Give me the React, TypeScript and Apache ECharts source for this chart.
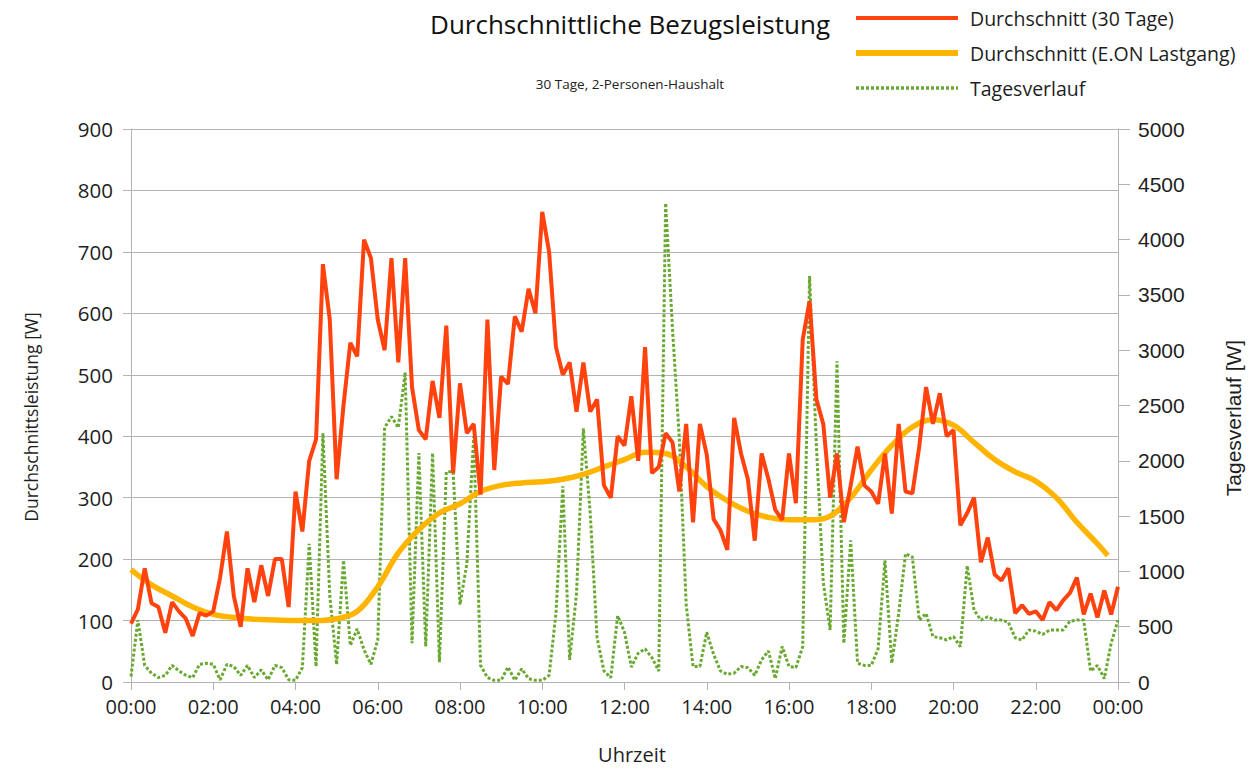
import React, { useEffect, useRef } from "react";
import * as echarts from "echarts";

const TITLE = "Durchschnittliche Bezugsleistung";
const SUBTITLE = "30 Tage, 2-Personen-Haushalt";
const SERIES_RED = "Durchschnitt (30 Tage)";
const SERIES_ORANGE = "Durchschnitt (E.ON Lastgang)";
const SERIES_GREEN = "Tagesverlauf";

// 10-minute steps, 00:00 .. 24:00
const STEP_MIN = 10;
const avg30Days = [
  95, 118, 185, 128, 122, 80, 130, 115, 103, 75, 112, 108, 115, 170, 245, 140, 90, 185, 130, 190, 140, 200, 200, 122,
  310, 245, 360, 395, 680, 590, 330, 450, 552, 530, 720, 690, 590, 540, 690, 520, 690, 480, 410, 395, 490, 430, 580, 340,
  486, 405, 420, 305, 590, 345, 497, 485, 595, 570, 640, 600, 765, 700, 545, 500, 520, 440, 520, 440, 460, 320, 300, 400,
  385, 465, 360, 545, 340, 350, 405, 390, 310, 420, 260, 420, 370, 265, 247, 215, 430, 372, 330, 230, 372, 330, 280, 264,
  372, 291, 557, 620, 460, 420, 300, 372, 260, 320, 383, 320, 310, 290, 372, 274, 420, 310, 307, 383, 480, 420, 470, 400,
  410, 255, 275, 300, 195, 235, 175, 165, 185, 112, 125, 111, 115, 101, 130, 117, 133, 145, 170, 110, 144, 105, 149, 110,
  155,
];

const dayProfile = [
  50, 560, 150, 80, 40, 60, 150, 100, 60, 40, 160, 170, 160, 20, 160, 140, 60, 150, 40, 110, 20, 150, 130, 20,
  15, 130, 1250, 140, 2250, 780, 160, 1100, 330, 480, 290, 160, 380, 2300, 2400, 2300, 2800, 350, 2070, 320, 2070, 180, 1900, 1900,
  700, 1070, 2220, 150, 40, 15, 15, 136, 15, 120, 30, 15, 15, 60, 620, 1770, 200, 800, 2294, 1525, 400, 100, 40, 600,
  450, 136, 260, 300, 220, 100, 4330, 3200, 2200, 700, 140, 140, 450, 250, 100, 70, 80, 140, 130, 60, 200, 280, 30, 320,
  140, 130, 320, 3670, 2130, 900, 470, 2900, 350, 1280, 170, 150, 150, 300, 1100, 170, 620, 1160, 1130, 560, 620, 410, 400, 380,
  410, 320, 1050, 650, 560, 590, 560, 560, 540, 400, 380, 470, 460, 430, 470, 470, 470, 550, 560, 560, 100, 150, 30, 350,
  560,
];

// E.ON standard load profile, 30-minute steps plus final 23:45 value
const eonTimes = [
  "00:00", "00:30", "01:00", "01:30", "02:00", "02:30", "03:00", "03:30", "04:00", "04:30", "05:00", "05:30",
  "06:00", "06:30", "07:00", "07:30", "08:00", "08:30", "09:00", "09:30", "10:00", "10:30", "11:00", "11:30",
  "12:00", "12:30", "13:00", "13:30", "14:00", "14:30", "15:00", "15:30", "16:00", "16:30", "17:00", "17:30",
  "18:00", "18:30", "19:00", "19:30", "20:00", "20:30", "21:00", "21:30", "22:00", "22:30", "23:00", "23:30", "23:45",
];
const eonValues = [
  183, 158, 140, 122, 110, 105, 102, 101, 100, 100, 103, 115,
  155, 210, 248, 275, 290, 310, 320, 324, 326, 330, 338, 350,
  362, 374, 372, 350, 318, 295, 278, 268, 264, 264, 270, 300,
  345, 385, 415, 427, 418, 390, 362, 342, 327, 300, 260, 225, 206,
];

const leftTicks = { min: 0, max: 900, interval: 100 };
const rightTicks = { min: 0, max: 5000, interval: 500 };
const xTicks = { min: 0, max: 1440, interval: 120 };

const toMinutes = (t: string) => {
  const [h, m] = t.split(":").map(Number);
  return h * 60 + m;
};
const fmtTime = (m: number) => {
  const h = Math.floor(m / 60) % 24;
  const mm = Math.round(m % 60);
  return String(h).padStart(2, "0") + ":" + String(mm).padStart(2, "0");
};

const FONT = "'Open Sans', sans-serif";
const FONT2 = "'Liberation Sans', Arial, sans-serif";
const TXT = "#1e1e1e";
const GRID = "#b3b3b3";
const RED = "#ff420e";
const ORANGE = "#ffb400";
const GREEN = "#6aa832";

export default function App() {
  const ref = useRef<HTMLDivElement>(null);
  useEffect(() => {
    if (!ref.current) return;
    const chart = echarts.init(ref.current, undefined, { renderer: "svg" });
    const redData = avg30Days.map((v, i) => [i * STEP_MIN, v]);
    const greenData = dayProfile.map((v, i) => [i * STEP_MIN, v]);
    const eonData = eonValues.map((v, i) => [toMinutes(eonTimes[i]), v]);

    chart.setOption({
      animation: false,
      backgroundColor: "#ffffff",
      textStyle: { fontFamily: FONT, color: TXT },
      title: [
        {
          text: TITLE,
          left: "center",
          top: 6,
          textStyle: { fontFamily: FONT, fontSize: 26, fontWeight: "normal", color: "#111" },
        },
        {
          text: SUBTITLE,
          left: "center",
          top: 72,
          textStyle: { fontFamily: FONT, fontSize: 13.5, fontWeight: "normal", color: "#222" },
        },
      ],
      legend: {
        orient: "vertical",
        left: 853,
        top: 7,
        padding: 0,
        itemWidth: 102,
        itemHeight: 14,
        itemGap: 13,
        itemStyle: { opacity: 0 },
        textStyle: { fontFamily: FONT, fontSize: 19.5, color: TXT, lineHeight: 22, padding: [0, 0, 0, 7] },
        data: [
          { name: SERIES_RED, lineStyle: { width: 4, color: RED } },
          { name: SERIES_ORANGE, lineStyle: { width: 6, color: ORANGE } },
          { name: SERIES_GREEN, lineStyle: { width: 3.5, color: GREEN, type: [3, 2] } },
        ],
      },
      grid: { left: 131, right: 142, top: 129, bottom: 87, containLabel: false },
      xAxis: {
        type: "value",
        min: xTicks.min,
        max: xTicks.max,
        interval: xTicks.interval,
        axisLine: { show: true, lineStyle: { color: GRID, width: 1 } },
        axisTick: { show: true, length: 8, lineStyle: { color: GRID } },
        splitLine: { show: false },
        axisLabel: {
          margin: 14,
          fontFamily: FONT,
          fontSize: 20,
          color: TXT,
          formatter: (v: number) => fmtTime(v),
        },
      },
      yAxis: [
        {
          type: "value",
          min: leftTicks.min,
          max: leftTicks.max,
          interval: leftTicks.interval,
          position: "left",
          axisLine: { show: true, lineStyle: { color: GRID } },
          axisTick: { show: true, length: 8, lineStyle: { color: GRID } },
          splitLine: { show: true, lineStyle: { color: GRID, width: 1 } },
          axisLabel: { margin: 18, fontFamily: FONT, fontSize: 20.5, color: TXT },
        },
        {
          type: "value",
          min: rightTicks.min,
          max: rightTicks.max,
          interval: rightTicks.interval,
          position: "right",
          axisLine: { show: true, lineStyle: { color: GRID } },
          axisTick: { show: true, length: 12, lineStyle: { color: GRID } },
          splitLine: { show: false },
          axisLabel: {
            margin: 20,
            fontFamily: FONT2,
            fontSize: 21,
            color: TXT,
            formatter: (v: number) => String(v),
          },
        },
      ],
      graphic: [
        {
          type: "text",
          x: 31,
          y: 417,
          rotation: Math.PI / 2,
          style: {
            text: "Durchschnittsleistung [W]",
            fontFamily: FONT,
            fontSize: 17.5,
            fill: TXT,
            align: "center",
            verticalAlign: "middle",
          },
        },
        {
          type: "text",
          x: 1233,
          y: 418,
          rotation: Math.PI / 2,
          style: {
            text: "Tagesverlauf [W]",
            fontFamily: FONT2,
            fontSize: 21,
            fill: TXT,
            align: "center",
            verticalAlign: "middle",
          },
        },
        {
          type: "text",
          x: 632,
          y: 754,
          style: {
            text: "Uhrzeit",
            fontFamily: FONT,
            fontSize: 20,
            fill: TXT,
            align: "center",
            verticalAlign: "middle",
          },
        },
      ],
      series: [
        {
          name: SERIES_GREEN,
          type: "line",
          yAxisIndex: 1,
          data: greenData,
          symbol: "none",
          showSymbol: false,
          lineStyle: { color: GREEN, width: 3, type: [3, 2] },
          itemStyle: { color: GREEN },
        },
        {
          name: SERIES_ORANGE,
          type: "line",
          yAxisIndex: 0,
          data: eonData,
          symbol: "none",
          showSymbol: false,
          smooth: 0.4,
          lineStyle: { color: ORANGE, width: 5.5 },
          itemStyle: { color: ORANGE },
        },
        {
          name: SERIES_RED,
          type: "line",
          yAxisIndex: 0,
          data: redData,
          symbol: "none",
          showSymbol: false,
          lineStyle: { color: RED, width: 4 },
          itemStyle: { color: RED },
        },
      ],
    });
    return () => chart.dispose();
  }, []);

  return (
    <div
      ref={ref}
      style={{ position: "absolute", left: 0, top: 0, width: 1260, height: 769, background: "#fff" }}
    />
  );
}
